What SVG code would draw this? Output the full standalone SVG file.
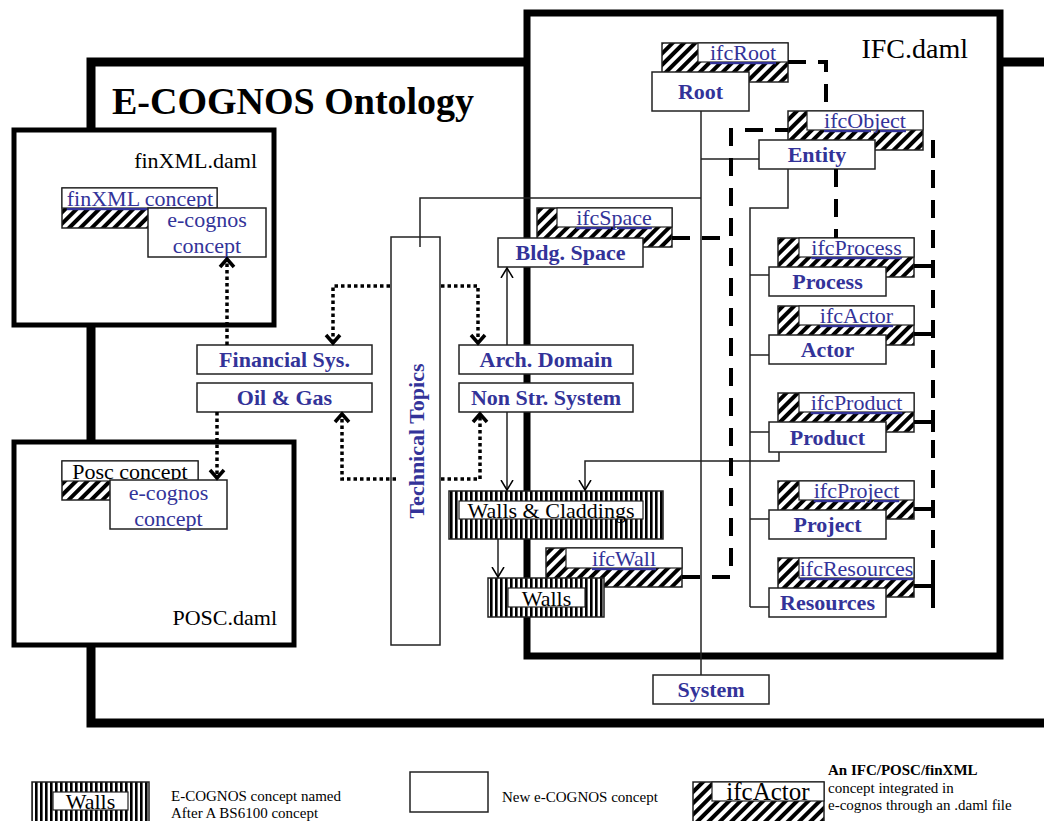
<svg xmlns="http://www.w3.org/2000/svg" width="1044" height="821" viewBox="0 0 1044 821">
<defs>
<pattern id="hatch" patternUnits="userSpaceOnUse" width="8" height="8" patternTransform="rotate(45)"><rect width="8" height="8" fill="#fff"/><rect width="4" height="8" fill="#000"/></pattern>
<pattern id="vstripe" patternUnits="userSpaceOnUse" width="5" height="10"><rect width="5" height="10" fill="#fff"/><rect width="2.6" height="10" fill="#000"/></pattern>
<marker id="dotArrow" markerUnits="userSpaceOnUse" markerWidth="20" markerHeight="20" refX="10" refY="10" orient="auto"><path d="M2,3 L10,10 L2,17" fill="none" stroke="#000" stroke-width="3.5"/></marker>
<marker id="thinArrow" markerUnits="userSpaceOnUse" markerWidth="20" markerHeight="20" refX="10" refY="10" orient="auto"><path d="M0,4 L10,10 L0,16" fill="none" stroke="#000" stroke-width="1.5"/></marker>
</defs>
<style>
.box{fill:#fff;stroke:#222;stroke-width:1.5}
.hat{fill:url(#hatch);stroke:#222;stroke-width:1.5}
.lbl{fill:#fff;stroke:#222;stroke-width:1.2}
.str{fill:url(#vstripe);stroke:#222;stroke-width:1.5}
.nt{font-family:"Liberation Serif",serif;font-weight:bold;font-size:22px;fill:#333399;text-anchor:middle}
.it{font-family:"Liberation Serif",serif;font-size:22px;fill:#333399;text-anchor:middle;text-decoration:underline}
.bt{font-family:"Liberation Serif",serif;font-size:22px;fill:#000;text-anchor:middle}
.ec{font-family:"Liberation Serif",serif;font-size:22px;fill:#333399;text-anchor:middle}
.fn{font-family:"Liberation Serif",serif;fill:#000}
.thin{fill:none;stroke:#222;stroke-width:1.5}
.dot{fill:none;stroke:#000;stroke-width:3.5;stroke-dasharray:3.5 3}
.dash{fill:none;stroke:#000;stroke-width:4;stroke-dasharray:18 12}
.solid4{fill:none;stroke:#000;stroke-width:4}
.leg{font-family:"Liberation Serif",serif;font-size:15px;fill:#000}
</style>
<rect width="1044" height="821" fill="#fff"/>
<!-- containers -->
<g id="ecognos">
<rect x="91" y="62" width="1000" height="661" fill="#fff" stroke="#000" stroke-width="9"/>
<text x="112" y="114" class="fn" font-size="38" font-weight="bold">E-COGNOS Ontology</text>
</g>
<g id="ifc">
<rect x="527" y="13" width="473" height="643" fill="#fff" stroke="#000" stroke-width="7"/>
<text x="968" y="58" class="fn" font-size="28" text-anchor="end">IFC.daml</text>
</g>
<g id="finxml">
<rect x="14" y="130" width="260" height="195" fill="#fff" stroke="#000" stroke-width="5"/>
<text x="257" y="168" class="fn" font-size="22" text-anchor="end">finXML.daml</text>
<rect class="hat" x="62" y="188" width="155" height="40"/>
<rect class="lbl" x="62" y="188" width="155" height="20"/>
<text class="it" x="140" y="206">finXML concept</text>
<rect class="box" x="148" y="208" width="118" height="49"/>
<text class="ec" x="207" y="227">e-cognos</text>
<text class="ec" x="207" y="253">concept</text>
</g>
<g id="posc">
<rect x="14" y="442" width="280" height="203" fill="#fff" stroke="#000" stroke-width="5"/>
<text x="277" y="625" class="fn" font-size="22" text-anchor="end">POSC.daml</text>
<rect class="hat" x="62" y="461" width="136" height="39"/>
<rect class="lbl" x="62" y="461" width="136" height="20"/>
<text class="bt" x="130" y="479">Posc concept</text>
<rect class="box" x="110" y="480" width="117" height="49"/>
<text class="ec" x="168.5" y="500">e-cognos</text>
<text class="ec" x="168.5" y="526">concept</text>
</g>
<!-- nodes -->
<g id="n-ifcRoot"><rect class="hat" x="662" y="43" width="126" height="39"/><rect class="lbl" x="698" y="43" width="90" height="19"/><text class="it" x="743" y="60">ifcRoot</text></g>
<g id="n-root"><rect class="box" x="652" y="72" width="97" height="39"/><text class="nt" x="700.5" y="99">Root</text></g>
<g id="n-ifcObject"><rect class="hat" x="788" y="111" width="135" height="39"/><rect class="lbl" x="807" y="111" width="116" height="19"/><text class="it" x="865" y="128">ifcObject</text></g>
<g id="n-entity"><rect class="box" x="759" y="140" width="116" height="29"/><text class="nt" x="817" y="162">Entity</text></g>
<g id="n-ifcSpace"><rect class="hat" x="537" y="208" width="135" height="39"/><rect class="lbl" x="557" y="208" width="115" height="19"/><text class="it" x="614" y="225">ifcSpace</text></g>
<g id="n-bldg"><rect class="box" x="498" y="238" width="145" height="29"/><text class="nt" x="570.5" y="260">Bldg. Space</text></g>
<g id="n-ifcProcess"><rect class="hat" x="778" y="238" width="136" height="39"/><rect class="lbl" x="799" y="238" width="115" height="19"/><text class="it" x="856.5" y="255">ifcProcess</text></g>
<g id="n-process"><rect class="box" x="769" y="267" width="117" height="29"/><text class="nt" x="827.5" y="289">Process</text></g>
<g id="n-ifcActor"><rect class="hat" x="778" y="306" width="136" height="39"/><rect class="lbl" x="799" y="306" width="115" height="19"/><text class="it" x="856.5" y="323">ifcActor</text></g>
<g id="n-actor"><rect class="box" x="769" y="335" width="117" height="29"/><text class="nt" x="827.5" y="357">Actor</text></g>
<g id="n-ifcProduct"><rect class="hat" x="778" y="393" width="136" height="39"/><rect class="lbl" x="799" y="393" width="115" height="19"/><text class="it" x="856.5" y="410">ifcProduct</text></g>
<g id="n-product"><rect class="box" x="769" y="422" width="117" height="30"/><text class="nt" x="827.5" y="444.5">Product</text></g>
<g id="n-ifcProject"><rect class="hat" x="778" y="481" width="136" height="38"/><rect class="lbl" x="799" y="481" width="115" height="19"/><text class="it" x="856.5" y="498">ifcProject</text></g>
<g id="n-project"><rect class="box" x="769" y="510" width="117" height="29"/><text class="nt" x="827.5" y="532">Project</text></g>
<g id="n-ifcResources"><rect class="hat" x="778" y="558" width="136" height="39"/><rect class="lbl" x="799" y="558" width="115" height="20"/><text class="it" x="856.5" y="576">ifcResources</text></g>
<g id="n-resources"><rect class="box" x="769" y="588" width="117" height="29"/><text class="nt" x="827.5" y="610">Resources</text></g>
<g id="n-system"><rect class="box" x="653" y="675" width="116" height="29"/><text class="nt" x="711" y="697">System</text></g>
<g id="n-financial"><rect class="box" x="197" y="345" width="175" height="29"/><text class="nt" x="284.5" y="367">Financial Sys.</text></g>
<g id="n-oilgas"><rect class="box" x="197" y="383" width="175" height="29"/><text class="nt" x="284.5" y="405">Oil &amp; Gas</text></g>
<g id="n-arch"><rect class="box" x="459" y="345" width="174" height="29"/><text class="nt" x="546" y="367">Arch. Domain</text></g>
<g id="n-nonstr"><rect class="box" x="459" y="383" width="174" height="29"/><text class="nt" x="546" y="405">Non Str. System</text></g>
<g id="n-tt"><rect class="box" x="391" y="237" width="49" height="408"/><text class="nt" transform="translate(424 441) rotate(-90)">Technical Topics</text></g>
<g id="n-wallsclad"><rect class="str" x="449" y="491" width="214" height="48"/><rect class="lbl" x="459" y="501" width="184" height="18"/><text class="bt" x="551" y="518">Walls &amp; Claddings</text></g>
<g id="n-ifcWall"><rect class="hat" x="546" y="548" width="136" height="39"/><rect class="lbl" x="566" y="548" width="116" height="20"/><text class="it" x="624" y="566">ifcWall</text></g>
<g id="n-walls"><rect class="str" x="488" y="578" width="116" height="39"/><rect class="lbl" x="508" y="588" width="77" height="19"/><text class="bt" x="546.5" y="606">Walls</text></g>
<!-- connectors -->
<g id="connectors">
<path class="thin" d="M701,111 V675"/>
<path class="thin" d="M701,159 H759"/>
<path class="thin" d="M420,247 V198 H701"/>
<path class="thin" d="M788,169 V208 H750 V607"/>
<path class="thin" d="M750,275 H769 M750,355 H769 M750,432 H769 M750,519 H769 M750,607 H769"/>
<path class="thin" d="M507,345 V268" marker-end="url(#thinArrow)"/>
<path class="thin" d="M507,412 V490" marker-end="url(#thinArrow)"/>
<path class="thin" d="M498,539 V577" marker-end="url(#thinArrow)"/>
<path class="thin" d="M779,452 V461 H585 V490" marker-end="url(#thinArrow)"/>
<path class="dot" d="M227,345 V259" marker-end="url(#dotArrow)"/>
<path class="dot" d="M217,412 V478" marker-end="url(#dotArrow)"/>
<path class="dot" d="M390,286 H333 V343" marker-end="url(#dotArrow)"/>
<path class="dot" d="M441,286 H478 V343" marker-end="url(#dotArrow)"/>
<path class="dot" d="M396,479 H342 V414" marker-end="url(#dotArrow)"/>
<path class="dot" d="M441,479 H480 V414" marker-end="url(#dotArrow)"/>
<path class="dash" d="M788,62 H826 V111"/>
<path class="dash" d="M672,238 H729"/>
<path class="dash" d="M682,577 H731 V130 H788"/>
<path class="dash" d="M836,169 V238"/>
<path class="dash" d="M933,140 V618"/>
<path class="solid4" d="M914,266 H933 M914,334 H933 M914,422 H933 M914,509 H933 M914,586 H933"/>
<path class="solid4" d="M933,412 V432 M933,576 V596"/>
</g>
<!-- legend -->
<g id="legend-bs6100"><rect class="str" x="32" y="782" width="117" height="46"/><rect class="lbl" x="53" y="792" width="75" height="18"/><text class="bt" x="90.5" y="809">Walls</text>
<text class="leg" x="171" y="801">E-COGNOS concept named</text><text class="leg" x="171" y="818">After A BS6100 concept</text></g>
<g id="legend-new"><rect class="box" x="410" y="772" width="78" height="40"/><text class="leg" x="502" y="802">New e-COGNOS concept</text></g>
<g id="legend-ifc"><rect class="hat" x="693" y="782" width="131" height="46"/><rect class="lbl" x="712" y="782" width="112" height="19"/><text class="fn" x="768" y="800" font-size="25" text-anchor="middle">ifcActor</text>
<text class="leg" x="828" y="775" font-weight="bold">An IFC/POSC/finXML</text><text class="leg" x="828" y="793">concept integrated in</text><text class="leg" x="828" y="810">e-cognos through  an .daml file</text></g>
</svg>
